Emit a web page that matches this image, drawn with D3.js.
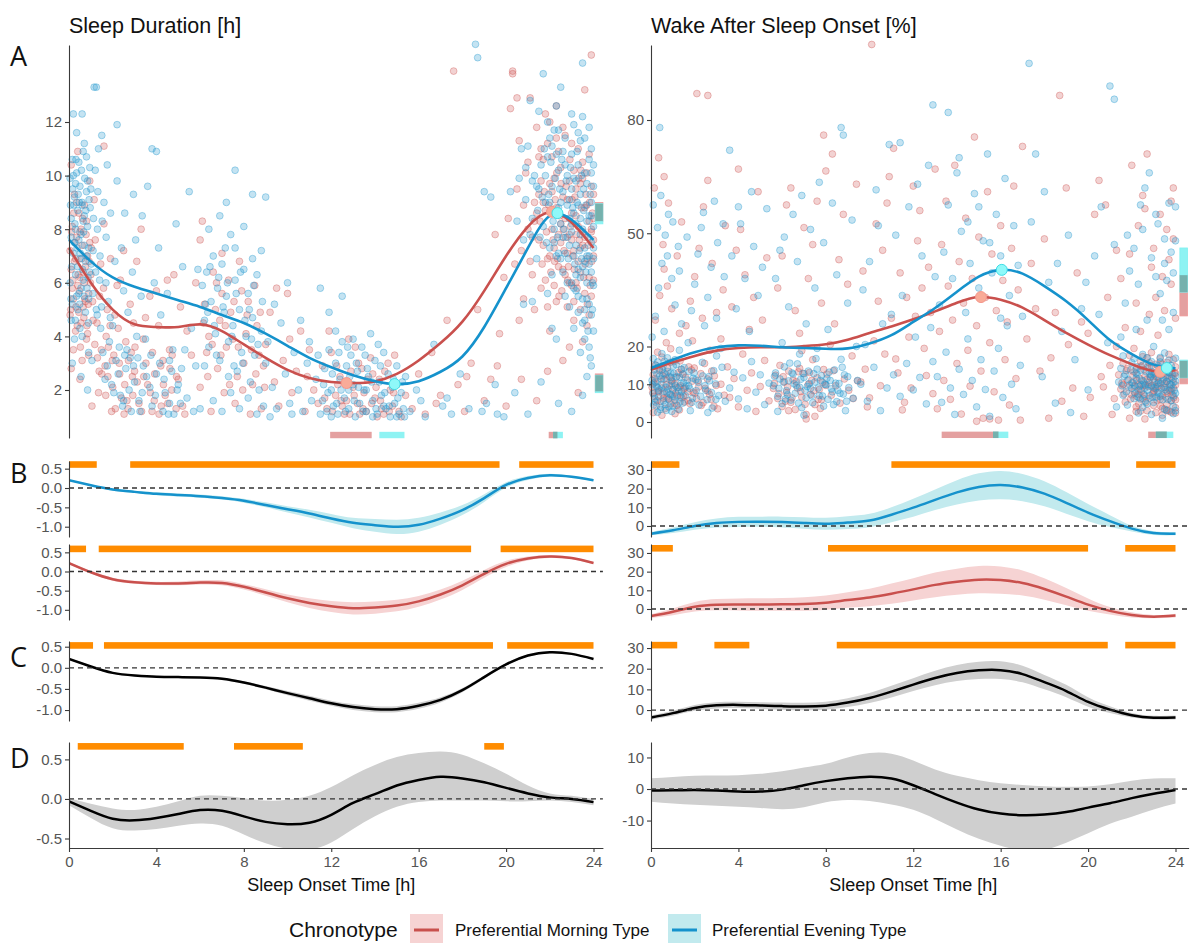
<!DOCTYPE html>
<html>
<head>
<meta charset="utf-8">
<script src="https://cdn.jsdelivr.net/npm/d3@7/dist/d3.min.js"></script>
<style>
  html, body { margin: 0; padding: 0; background: #fff; }
  svg { display: block; font-family: "Liberation Sans", Arial, sans-serif; }
</style>
</head>
<body>
<script>
// ---------------- data ----------------
const groups = ["Preferential Morning Type", "Preferential Evening Type"];

// Raw observations: sleep onset time [h], sleep duration [h]
const durMorningPts = `
0.05,7.2 0.1,6.5 0.15,8.1 0.2,5.4 0.25,9.3 0.3,6.9 0.05,4.8 0.35,7.7 0.4,5.9 0.45,8.6 0.5,6.2 0.1,10.4 0.55,4.5 0.6,7.4 0.65,5.1 0.7,8.9 0.75,6.6 0.8,3.9 0.85,7.0 0.9,5.6 0.95,9.8 0.2,3.5 0.3,4.2 0.4,10.9 0.5,7.9 0.6,3.1 0.7,6.0 0.8,8.3 0.15,5.8 0.25,6.8 0.35,9.0 0.45,4.9 0.55,8.0 0.65,6.4 0.75,5.3 0.85,4.1 0.95,7.5 0.1,2.8 0.5,2.4 0.9,3.3
0.08,5.0 0.18,6.1 0.28,7.5 0.38,4.4 0.48,5.7 0.58,6.9 0.68,4.7 0.78,7.8 0.88,5.2 0.98,6.0 1.08,5.3 1.18,3.7 1.28,4.5 1.38,2.7 1.48,3.5 1.58,5.8 1.68,1.8 1.78,2.5 1.88,4.4 1.98,3.1 0.12,7.9 0.22,8.6 0.32,5.1 0.42,6.3 0.52,3.6 0.62,8.4 0.72,5.4 0.82,4.4 0.92,6.8 1.02,7.3
1.0,6.3 1.1,4.6 1.2,7.6 1.3,3.2 1.4,5.5 1.5,2.6 1.6,8.2 1.7,4.0 1.8,3.6 1.9,6.9 2.0,2.1 2.1,4.8 2.2,5.9 2.3,3.0 2.4,1.7 2.5,7.2 2.6,3.8 2.7,1.3 2.8,5.2 2.9,2.5 1.05,1.4 1.35,1.9 1.65,2.9 1.95,1.2 2.25,4.3 2.55,2.2 2.85,3.4 1.15,9.1 1.45,6.7 1.75,5.0 2.05,3.3 2.35,6.1 2.65,1.6 2.95,4.5 1.6,11.1
2.12,1.3 2.32,2.6 2.52,1.1 2.72,3.1 2.92,1.8 3.12,2.3 3.32,1.2 3.52,3.0 3.72,1.9 3.92,2.6 4.12,1.1 4.32,2.2 4.52,1.5 4.72,3.3 4.92,2.5 3.02,3.6 3.42,2.5 3.82,3.4 4.22,1.4 4.62,2.8
3.0,2.7 3.2,1.5 3.4,3.9 3.6,2.2 3.8,1.2 4.0,5.7 4.2,2.9 4.4,1.8 4.6,3.5 4.8,6.3 5.0,2.4 5.2,1.4 5.4,4.2 3.1,6.8 3.5,4.7 3.9,1.6 4.3,3.1 4.7,2.0 5.1,5.1 5.3,1.1 3.3,8.0 4.1,4.4 4.9,1.3 3.7,5.5 4.5,6.1
5.6,3.3 5.8,6.0 6.0,2.1 6.2,5.2 6.4,4.0 6.6,6.4 6.8,2.8 7.0,5.6 7.2,3.6 7.4,4.9 7.6,1.5 7.8,6.8 8.0,3.0 8.2,5.3 8.4,2.2 8.6,4.4 8.8,1.3 9.0,3.7 6.1,8.3 6.5,1.2 6.9,4.6 7.3,6.1 7.7,2.5 8.1,4.1 8.5,5.9 8.9,2.9 6.3,3.4 6.7,5.0 7.1,1.9 7.5,3.9 7.9,5.7 8.3,1.1 8.7,3.3 6.0,7.6 7.0,7.1
6.15,4.5 6.35,2.5 6.55,3.7 6.75,6.0 6.95,3.3 7.15,4.4 7.35,2.2 7.55,5.3 7.75,3.6 7.95,2.0 8.15,4.8 8.35,3.5 8.55,2.6 8.75,4.9 8.95,2.1
9.2,4.9 9.4,2.3 9.6,1.4 9.8,3.1 10.0,5.6 10.2,1.9 10.4,2.7 10.6,4.2 10.8,1.2 11.0,3.5 11.2,2.0 11.4,1.5 9.5,5.8 10.1,3.9 10.9,2.5
11.6,2.9 11.8,1.3 12.0,3.4 12.2,1.8 12.4,2.5 12.6,1.1 12.8,3.9 13.0,2.1 13.2,1.5 13.4,2.8 13.6,1.2 13.8,3.2 14.0,1.7 14.2,2.4 14.4,1.1 14.6,3.0 14.8,1.4 15.0,2.2 15.2,1.0 15.4,1.8 11.9,4.2 12.3,2.2 12.7,1.6 13.1,3.6 13.5,1.9 13.9,2.6 14.3,1.3 14.7,2.0 15.1,1.2 12.5,1.4 13.3,1.1 14.1,1.0 11.7,1.7 12.9,2.7 14.9,3.3
12.05,1.2 12.25,2.9 12.45,1.6 12.65,2.3 12.85,1.1 13.05,1.8 13.25,3.0 13.45,1.3 13.65,2.4 13.85,1.5 14.05,2.1 14.25,1.6 14.45,2.7 14.65,1.2 14.85,1.9
15.7,1.3 16.0,2.6 16.3,1.1 16.6,3.4 17.0,1.8 17.3,4.6 17.6,13.9 17.8,2.2 18.1,1.2 18.4,3.0 18.7,5.0 19.0,1.6 19.3,2.4 19.5,7.8 19.7,4.1 19.9,6.2 20.0,1.4 16.8,1.5 18.2,2.5 19.6,2.9
20.1,8.4 20.2,12.5 20.3,13.8 20.4,6.7 20.5,9.5 20.6,11.3 20.7,7.2 20.8,5.4 20.9,10.1 21.0,8.0 21.1,12.9 21.2,6.3 21.3,9.0 21.4,11.8 21.5,7.6 21.6,5.8 21.7,10.6 21.8,8.7 21.9,6.9 22.0,12.0 22.1,9.4 22.2,7.3 22.3,5.3 22.4,10.9 22.5,8.2 22.6,6.5 22.7,11.5 22.8,9.1 22.9,7.8 23.0,5.9 23.1,10.2 23.2,8.5 23.3,6.8 23.4,9.7 23.5,7.4 23.6,5.6 23.7,8.9 23.8,6.2 23.9,7.9 24.0,9.3
21.0,10.5 21.2,7.7 21.4,8.6 21.6,9.8 21.8,6.1 22.0,7.0 22.1,8.0 22.2,9.9 22.3,8.8 22.4,6.6 22.5,7.5 22.6,9.2 22.7,8.4 22.8,7.1 22.9,6.0 23.0,8.6 23.1,7.2 23.2,9.5 23.3,8.1 23.4,6.4 23.5,9.9 23.6,7.7 23.7,6.9 23.8,8.3 23.9,5.5 24.0,7.0 22.2,5.9 22.5,10.3 22.8,5.1 23.1,4.6 23.4,5.0 23.7,4.4 23.9,9.6 23.3,11.0 22.6,11.8 21.9,11.2 21.3,5.0 20.6,4.6 22.0,4.2 23.5,3.8 23.8,10.8 24.0,6.1 23.6,8.8 23.0,7.6 22.4,7.8 21.7,7.4 21.1,6.8 20.8,8.9 22.9,9.8 23.2,6.0 23.9,8.0 23.4,7.3 22.7,6.3 22.1,10.7 21.5,9.3 23.7,10.1 24.0,8.4 23.1,5.3 22.3,12.6 21.8,12.3 20.5,12.9 23.6,13.2 22.9,3.6 21.9,2.7 23.3,1.9 22.6,3.1 20.7,2.4 21.4,1.6 23.9,14.5 20.3,13.9
21.55,8.3 21.65,6.7 21.75,9.4 21.85,7.9 21.95,8.9 22.05,6.4 22.15,7.6 22.25,9.1 22.35,6.9 22.45,8.5 22.55,5.7 22.65,7.2 22.75,9.6 22.85,6.6 22.95,8.1 23.05,7.0 23.15,9.2 23.25,5.8 23.35,7.6 23.45,8.8 23.55,6.2 23.65,9.3 23.75,7.4 23.85,5.9 23.95,8.6 22.12,8.7 22.32,10.1 22.52,9.7 22.72,7.7 22.92,10.6 23.12,6.5 23.32,9.9 23.52,7.9 23.72,5.2 23.92,6.8 22.22,6.8 22.42,5.5 22.62,8.0 22.82,6.1 23.02,9.1 23.22,7.8 23.42,10.2 23.62,6.7 23.82,9.0 24.0,7.6 21.7,9.0 21.9,5.1 22.0,9.7 21.5,10.7 21.3,8.3 21.6,11.0 22.3,11.4 23.0,11.2 23.5,10.5 23.8,4.8
`;
const durEveningPts = `
0.05,9.9 0.1,8.4 0.15,10.6 0.2,7.1 0.25,9.2 0.3,6.3 0.35,10.1 0.4,8.7 0.45,7.6 0.5,9.6 0.55,5.8 0.6,8.9 0.65,10.9 0.7,7.4 0.75,6.8 0.8,9.4 0.85,8.1 0.9,5.4 0.95,10.3 0.05,6.0 0.1,4.6 0.15,5.2 0.2,12.3 0.25,3.9 0.3,8.0 0.35,5.5 0.4,6.6 0.45,10.5 0.5,4.3 0.55,7.8 0.6,9.0 0.65,6.1 0.7,11.2 0.75,4.9 0.8,7.0 0.85,9.8 0.9,3.4 0.95,6.4 0.1,7.7 0.3,9.7 0.5,6.9 0.7,8.5 0.9,7.3 0.2,10.0 0.4,5.0 0.6,4.0 0.8,10.7 0.15,3.0 0.55,2.5 0.85,2.0 0.35,11.6 0.6,12.3 0.25,7.5 0.65,8.3 0.45,5.6
0.07,8.9 0.17,9.5 0.27,8.2 0.37,7.3 0.47,9.0 0.57,10.2 0.67,7.9 0.77,8.7 0.87,6.2 0.97,8.8 0.12,6.6 0.22,8.9 0.32,10.6 0.42,9.3 0.52,7.1 0.62,6.5 0.72,9.9 0.82,5.8 0.92,9.1 1.02,6.7 1.12,8.4 1.22,6.4 1.32,9.4 1.42,7.0 1.52,8.3 0.09,5.4 0.29,4.6 0.49,5.2 0.69,5.5 0.89,4.5 1.09,5.6 1.29,4.8 1.49,5.1 1.69,6.0 1.89,4.7
1.0,9.5 1.1,7.2 1.2,10.2 1.3,8.0 1.4,6.1 1.5,11.5 1.6,9.0 1.7,7.7 1.8,5.3 1.9,8.6 2.0,4.4 2.1,6.8 2.2,9.8 2.3,3.6 2.4,7.3 2.5,5.7 2.6,2.8 2.7,4.9 2.8,3.2 2.9,6.4 3.0,2.3 3.1,4.0 3.2,1.6 3.3,5.5 3.4,2.9 1.05,3.1 1.25,5.0 1.45,4.3 1.65,2.4 1.85,3.8 2.05,1.9 2.25,2.6 2.45,1.4 2.65,3.5 2.85,1.2 3.05,7.6 3.25,1.2 1.15,13.3 1.25,13.3 2.2,11.9 1.75,10.4 2.55,8.6 2.95,9.3 3.35,8.5 1.35,11.0 3.8,11.0 4.0,10.9 3.6,9.6 3.7,2.1
2.15,3.1 2.35,1.8 2.55,3.3 2.75,2.0 2.95,2.9 3.15,3.2 3.35,1.9 3.55,2.5 3.75,3.3 3.95,1.8 4.15,3.0 4.35,2.4 4.55,1.1 4.75,3.5 4.95,2.0 5.15,2.8 1.55,3.4 1.75,2.9 1.95,2.2 2.5,1.6
3.5,3.9 3.8,1.4 4.0,2.6 4.2,4.8 4.4,1.9 4.6,3.1 4.8,1.1 5.0,2.2 5.2,6.6 5.4,1.7 5.6,4.3 5.8,2.9 6.0,1.3 4.1,7.3 4.5,5.6 4.9,8.2 5.3,3.5 5.7,1.2 4.3,1.2 4.7,2.7 5.1,1.5 5.5,9.4 3.9,6.0 4.6,1.5 5.9,6.5
6.1,5.9 6.2,4.6 6.3,6.4 6.4,3.6 6.5,5.3 6.6,7.0 6.7,4.1 6.8,5.8 6.9,3.1 7.0,6.7 7.1,4.9 7.2,5.5 7.3,3.8 7.4,7.8 7.5,4.4 7.6,6.1 7.7,2.7 7.8,5.0 7.9,3.4 8.0,6.5 8.1,4.0 8.2,5.6 8.3,2.3 8.4,4.7 8.5,3.3 8.6,6.3 8.7,2.0 8.8,4.2 8.9,1.4 9.0,3.0 6.4,8.0 6.9,8.5 7.2,9.0 7.6,7.3 8.0,8.1 8.4,6.9 6.6,1.6 7.0,1.2 7.4,1.9 7.8,1.3 8.2,1.7 8.6,1.1 7.3,2.5 6.2,2.9 8.8,7.2 7.6,10.2 8.4,9.3 9.0,9.2
6.25,5.2 6.45,6.6 6.65,4.4 6.85,6.2 7.05,5.1 7.25,6.0 7.45,4.0 7.65,5.6 7.85,6.4 8.05,4.6 8.25,5.0 8.45,5.9 8.65,3.7 8.85,5.3 7.15,7.3 6.75,3.3 7.95,3.0 8.35,3.9 6.35,4.9 7.55,2.9
9.1,3.8 9.3,2.1 9.5,1.3 9.7,4.5 9.9,2.6 10.1,1.5 10.3,3.4 10.5,2.0 10.7,1.2 10.9,3.0 11.1,1.6 11.3,2.4 11.5,1.1 9.4,5.2 10.0,6.0 10.6,4.6 11.0,3.8 9.2,1.0 10.2,1.1 11.4,3.3
11.6,1.6 11.7,2.8 11.8,1.2 11.9,3.5 12.0,2.0 12.1,1.4 12.2,3.0 12.3,1.1 12.4,2.4 12.5,3.8 12.6,1.7 12.7,2.9 12.8,1.3 12.9,3.3 13.0,2.2 13.1,1.0 13.2,2.7 13.3,1.5 13.4,3.6 13.5,2.0 13.6,1.2 13.7,2.5 13.8,4.1 13.9,1.6 14.0,3.1 14.1,1.1 14.2,2.3 14.3,1.8 14.4,3.4 14.5,1.3 14.6,2.6 14.7,1.0 14.8,2.1 14.9,1.5 15.0,2.9 15.1,1.1 15.2,1.9 15.3,1.3 15.4,2.5 12.2,4.2 13.0,3.9 12.0,1.0 12.8,2.0 13.6,2.0 14.4,1.4 15.0,1.0 11.5,5.8 12.5,5.5 11.9,4.9 13.9,1.0
11.65,2.2 11.85,1.9 12.05,2.6 12.25,1.5 12.45,2.0 12.65,1.2 12.85,2.5 13.05,1.6 13.25,2.1 13.45,1.2 13.65,2.8 13.85,2.3 14.05,1.3 14.25,2.9 14.45,1.9 14.65,1.4 14.85,2.4 15.05,1.7 15.25,2.3 12.35,3.4 13.15,3.0 13.55,3.3 14.15,3.7 12.75,3.6 15.35,1.0
15.6,1.2 15.9,2.0 16.3,1.0 16.7,3.7 17.1,1.4 17.5,1.1 17.9,2.6 18.3,1.3 18.6,14.9 18.7,14.4 19.1,1.5 19.5,2.2 19.9,1.0 20.2,9.4 20.5,8.3 16.1,1.6 18.9,1.2 17.3,1.7 19.0,9.4 19.3,9.2
20.6,9.9 20.8,7.6 21.0,11.1 21.2,8.4 21.4,6.9 21.6,10.4 21.8,9.0 22.0,7.3 22.2,11.7 22.4,8.8 22.6,6.4 22.8,10.0 23.0,7.9 23.2,5.7 23.4,9.3 23.6,6.8 23.8,8.5 24.0,5.9
21.1,12.8 21.5,12.4 21.9,12.0 22.3,12.6 22.7,11.4 23.1,11.9 23.5,12.2 23.9,11.0 21.7,13.8 22.5,13.3
22.1,9.6 22.3,7.0 22.5,8.2 22.7,5.5 22.9,9.1 23.0,6.0 23.1,8.6 23.2,7.4 23.3,10.4 23.4,6.2 23.5,8.0 23.6,5.0 23.7,9.7 23.8,6.7 23.9,4.8 24.0,8.1
22.9,5.1 23.1,4.3 23.3,4.9 23.5,4.5 23.7,5.4 23.9,6.4 24.0,4.2 23.6,3.9 23.8,3.6 23.4,3.4 23.9,2.9 23.7,2.5 23.5,1.8
22.0,9.0 22.2,8.0 22.4,10.2 22.6,9.4 22.8,7.7 23.0,10.8 23.2,9.8 23.4,11.3 23.6,7.3 23.8,10.6 24.0,9.6 23.1,7.0 23.3,8.9 23.5,6.6 23.7,8.3 23.9,7.5 22.1,6.3 22.5,6.9 22.9,8.4 23.3,6.5 23.7,6.0 23.9,9.0 21.7,8.1 21.9,10.7 21.5,9.5 21.3,10.0 21.1,7.8 20.9,9.1 20.7,11.0 22.6,10.9 23.0,9.5 23.4,8.4 23.8,7.0 24.0,6.9 23.2,6.3 23.6,10.1 22.8,8.9 22.4,7.1 21.9,5.6 21.2,5.3 20.8,5.2 22.1,4.3 22.3,3.9 21.6,2.3 20.4,1.9 23.0,1.2 22.4,1.5 21.0,1.1 19.6,1.1 23.5,14.2
21.45,8.7 21.55,7.7 21.65,9.2 21.75,11.0 21.85,7.5 21.95,9.3 22.05,10.5 22.15,8.3 22.25,9.9 22.35,7.7 22.45,9.5 22.55,10.6 22.65,8.0 22.75,9.8 22.85,6.9 22.95,10.3 23.05,8.8 23.15,6.7 23.25,9.0 23.35,7.2 23.45,10.0 23.55,8.7 23.65,6.4 23.75,7.7 23.85,9.3 23.95,6.0 22.1,11.1 22.4,11.7 22.7,10.4 23.0,12.3 23.3,11.6 23.6,11.4 23.9,10.1 22.2,7.5 22.5,9.0 22.8,6.0 23.1,9.9 23.4,7.8 23.7,7.0 24.0,7.3 23.5,5.4 23.8,5.2 23.6,4.6 23.3,5.5 23.95,5.0 23.75,4.2 23.85,3.2 23.1,5.8 22.7,7.1 22.9,7.4 23.2,8.2 23.45,6.9 23.65,8.9 23.9,8.5 21.8,10.0 22.0,11.4 21.4,9.6 21.2,9.8 20.9,10.3 22.3,10.8 23.0,8.2 23.55,9.5 23.25,10.9 22.6,7.7 24.0,10.4 23.8,11.8
`;

// Raw observations: sleep onset time [h], wake after sleep onset [%]
const wasoMorningPts = `
0.05,9.2 0.1,12.5 0.15,6.8 0.2,15.1 0.25,4.3 0.3,10.7 0.35,8.0 0.4,13.6 0.45,5.5 0.5,17.2 0.55,7.4 0.6,11.3 0.65,3.6 0.7,9.9 0.75,14.4 0.8,6.1 0.85,12.0 0.9,4.8 0.95,10.2 1.0,8.5 1.05,16.0 1.1,5.0 1.15,11.8 1.2,7.0 1.25,13.1 1.3,3.2 1.35,9.6 1.4,6.4 1.45,12.7 1.5,8.8 0.1,2.5 0.3,18.5 0.5,1.8 0.7,21.0 0.9,19.4 1.1,2.2 1.3,23.5 0.2,27.0 0.4,33.5 0.6,40.5 0.8,58.0 0.15,62.0 0.35,70.0 0.55,47.0 0.75,36.0 0.95,30.0 1.2,44.0 1.4,53.0 0.6,65.0
0.08,7.8 0.18,11.5 0.28,5.7 0.38,14.0 0.48,9.0 0.58,6.3 0.68,12.6 0.78,8.7 0.88,15.8 0.98,6.8 1.08,10.1 1.18,4.4 1.28,9.2 1.38,13.9 1.48,6.9 1.58,11.8 1.68,8.0 1.78,4.9 1.88,10.8 1.98,14.3 2.08,6.2 2.18,9.3 2.28,12.8 2.38,5.1 2.48,8.9 2.58,11.4 2.68,7.3 2.78,13.5 2.88,4.2 2.98,9.7 0.13,10.3 0.33,8.2 0.53,12.2 0.73,6.6 0.93,11.0 1.13,7.7 1.33,16.2 1.53,5.3 1.73,14.6 1.93,7.9
1.55,9.0 1.7,5.7 1.85,13.8 2.0,7.6 2.15,11.0 2.3,4.4 2.45,15.5 2.6,8.2 2.75,6.0 2.9,12.2 3.05,3.5 3.2,10.0 3.35,7.1 3.5,14.6 1.6,25.5 1.8,32.0 2.0,38.5 2.2,46.0 2.4,57.0 2.6,64.0 2.8,42.0 3.0,29.0 3.2,22.0 3.4,52.0 2.1,87.0 2.6,86.5 1.9,21.5 2.7,19.0 3.3,35.0 2.35,27.5
3.6,6.5 3.8,11.5 4.0,4.0 4.2,18.0 4.4,8.4 4.6,13.0 4.8,2.8 5.0,9.4 5.2,16.3 5.4,5.6 3.7,30.5 3.9,45.5 4.1,51.0 4.3,39.0 4.5,24.5 4.7,33.0 4.9,61.0 5.1,27.0 5.3,43.5 4.0,67.0
5.6,8.9 5.7,12.4 5.8,6.2 5.9,15.0 6.0,4.1 6.1,10.6 6.2,7.8 6.3,13.5 6.4,5.2 6.5,11.1 6.6,3.3 6.7,9.0 6.8,14.2 6.9,6.6 7.0,12.8 7.1,2.0 7.2,10.0 7.3,7.3 7.4,16.5 7.5,4.6 7.6,11.7 7.7,8.6 7.8,5.9 7.9,13.9 8.0,9.7 5.8,35.5 6.0,44.0 6.2,57.5 6.4,62.0 6.6,29.5 6.8,23.5 7.0,51.5 7.2,38.0 7.4,47.0 7.6,58.5 7.8,31.5 8.0,66.5 8.2,20.5 8.4,26.0 8.6,43.0 8.8,55.0 9.0,36.5 9.2,17.5 9.4,63.0 7.9,76.0 8.3,71.0 6.3,3.0 7.1,0.8 7.5,1.5 6.9,18.9
5.65,10.2 5.85,7.5 6.05,12.0 6.25,9.3 6.45,6.4 6.65,10.7 6.85,8.1 7.05,4.7 7.25,13.1 7.45,8.3 7.65,6.0 7.85,10.5 8.05,12.7 8.25,7.1 8.45,9.6 8.65,5.0 8.85,11.4 9.05,8.4 9.25,6.2 9.45,10.9 6.15,5.5 7.35,11.0 8.35,13.6 6.75,13.3 7.75,3.6
9.6,10.6 9.8,14.0 10.0,6.4 10.2,21.5 10.4,32.0 10.6,45.5 10.8,58.0 11.0,27.5 11.2,16.7 11.4,39.5 11.6,5.2 11.8,22.5 12.0,62.5 12.2,48.0 12.4,35.5 12.6,12.3 12.8,29.0 13.0,67.0 10.1,100.0 9.9,4.0 10.3,52.5 10.7,18.0 11.1,72.5 11.5,3.2 11.9,9.0 12.3,56.0 12.7,41.0 12.9,7.5 10.5,9.6 11.3,13.0 12.1,28.0 10.9,65.0 11.7,33.0 12.5,19.5 9.7,40.0
13.1,3.5 13.2,24.0 13.3,47.0 13.4,11.0 13.5,58.5 13.6,36.0 13.7,6.0 13.8,27.0 13.9,68.0 14.0,15.5 14.1,42.5 14.2,2.1 14.3,31.5 14.4,54.0 14.5,19.0 14.6,9.5 14.7,38.0 14.8,75.5 14.9,25.5 15.0,49.0 15.1,13.5 15.2,1.0 15.3,33.0 15.4,61.0 15.5,21.0 15.6,44.5 15.7,8.0 15.8,29.5 15.9,0.5 16.0,52.0 16.1,37.5 16.2,16.5 16.3,26.5 16.4,4.5 16.5,46.0 16.6,62.5 16.7,11.5 16.8,35.0 17.0,73.0 17.2,22.0 17.4,42.0 17.6,30.0 16.9,0.5 15.5,0.8 14.9,0.2
17.8,13.5 18.0,48.5 18.3,17.0 18.5,29.0 18.8,5.5 19.0,62.0 19.3,9.0 19.5,39.5 19.8,1.5 20.0,23.5 20.3,55.0 20.6,12.0 20.9,33.0 21.1,2.0 21.3,45.5 18.2,1.0 19.1,20.5 19.7,26.5 20.1,6.5 20.8,57.5 18.7,86.5 20.5,64.0
21.4,12.5 21.5,8.7 21.6,15.5 21.7,5.3 21.8,11.0 21.9,17.6 22.0,7.2 22.1,13.3 22.2,4.0 22.3,9.8 22.4,16.0 22.5,6.3 22.6,12.1 22.7,3.0 22.8,10.5 22.9,14.8 23.0,7.9 23.1,2.5 23.2,11.8 23.3,6.0 23.4,15.3 23.5,9.2 23.6,4.7 23.7,13.0 23.8,8.1 23.9,11.4 24.0,5.9
22.0,10.4 22.2,13.9 22.4,8.6 22.6,6.9 22.8,15.7 23.0,12.6 23.2,9.5 23.4,7.1 23.6,10.8 23.8,5.6 24.0,12.9 22.3,7.3 22.7,11.3 23.1,8.8 23.5,13.7 23.9,9.0 21.6,9.9 21.8,14.1 22.5,17.3 23.3,16.8 23.7,17.9
21.55,10.3 21.65,7.4 21.75,13.6 21.85,9.1 21.95,6.1 22.05,12.3 22.15,9.5 22.25,6.7 22.35,11.6 22.45,8.2 22.55,13.9 22.65,5.2 22.75,9.4 22.85,12.0 22.95,7.5 23.05,10.6 23.15,5.8 23.25,13.4 23.35,8.9 23.45,11.3 23.55,6.6 23.65,12.4 23.75,9.9 23.85,7.2 23.95,13.0 22.12,7.9 22.32,4.8 22.52,10.0 22.72,14.6 22.92,9.7 23.12,12.0 23.32,4.2 23.52,10.2 23.72,8.4 23.92,6.4 22.22,11.0 22.42,14.8 22.62,9.7 22.82,6.3 23.02,8.3 23.22,10.4 23.42,12.8 23.62,7.6 23.82,11.7 24.0,9.8 23.1,15.3 22.7,17.0 23.6,15.8 24.0,14.6 23.9,16.5 22.9,18.4 23.4,3.6 23.7,2.9 22.4,2.9 24.0,2.4
22.1,19.5 22.4,24.0 22.8,28.5 23.1,33.0 23.4,38.5 23.7,43.0 23.9,48.5 22.3,52.0 22.6,56.5 23.0,46.0 23.3,55.0 23.6,51.0 23.8,36.5 24.0,27.5 22.9,41.0 22.2,31.5 21.9,44.5 21.5,38.0 21.7,25.0 22.5,60.0 23.2,23.0 23.5,29.5 23.8,58.5 21.3,20.0 22.0,68.0 22.7,71.0 23.9,62.0
21.9,1.0 22.6,0.8 23.4,1.8 23.8,2.6 22.2,2.8 23.0,4.4 23.6,3.2 24.0,3.8 21.2,6.2 21.0,15.0 20.7,9.3
`;
const wasoEveningPts = `
0.05,11.0 0.1,7.5 0.15,13.8 0.2,5.3 0.25,9.4 0.3,15.9 0.35,6.7 0.4,12.2 0.45,3.9 0.5,10.0 0.55,14.7 0.6,8.1 0.65,4.6 0.7,11.6 0.75,17.0 0.8,6.0 0.85,9.7 0.9,13.0 0.95,2.8 1.0,8.7 1.05,12.9 1.1,5.8 1.15,15.2 1.2,9.1 1.25,3.4 1.3,11.9 1.35,7.0 1.4,14.0 1.45,5.0 1.5,10.4 0.1,16.8 0.3,2.6 0.5,18.1 0.7,3.1 0.9,7.2 1.1,16.5 1.3,19.0 0.2,10.6 0.6,12.8 1.0,4.2 1.4,8.0
0.07,9.9 0.17,6.2 0.27,12.7 0.37,8.5 0.47,11.4 0.57,5.6 0.67,9.2 0.77,13.4 0.87,7.4 0.97,10.8 1.07,6.7 1.17,12.0 1.27,8.2 1.37,10.2 1.47,12.6 1.57,7.0 1.67,11.1 1.77,8.9 1.87,5.2 1.97,13.0 2.07,8.3 2.17,10.5 2.27,6.8 2.37,12.2 2.47,9.6 2.57,5.9 2.67,10.9 2.77,7.8 2.87,13.6 2.97,6.0 0.12,4.5 0.32,9.0 0.52,13.9 0.72,7.9 0.92,11.8 1.12,9.6 1.32,5.3 1.52,14.4 1.72,9.6 1.92,11.6 0.22,15.0 0.62,16.1 1.02,14.8 0.42,3.3 0.82,4.0
0.05,22.5 0.2,28.0 0.35,35.5 0.5,42.0 0.65,49.5 0.8,55.0 0.95,38.0 1.1,31.0 1.25,46.5 1.4,26.0 0.1,57.5 0.3,51.5 0.45,60.0 0.6,24.0 0.4,78.0 0.75,44.0 1.0,53.0 1.3,40.0
1.6,9.5 1.75,13.4 1.9,6.3 2.05,11.2 2.2,4.5 2.35,15.8 2.5,8.4 2.65,12.0 2.8,3.7 2.95,10.1 3.1,7.0 3.25,14.5 3.4,5.5 1.7,21.0 1.85,29.5 2.0,36.5 2.15,44.5 2.3,51.5 2.45,25.5 2.6,33.0 2.75,41.0 2.9,58.5 3.05,47.5 3.2,19.5 3.35,38.5 1.65,49.0 2.4,55.5 3.0,27.5 3.3,52.5 3.6,72.0 1.8,3.0 2.6,2.5 3.0,17.5
3.6,9.0 3.8,13.2 4.0,6.1 4.2,11.7 4.4,3.5 4.6,16.0 4.8,7.9 5.0,12.5 5.2,4.6 5.4,10.3 3.7,44.0 3.9,30.0 4.1,52.5 4.3,38.0 4.5,24.0 4.7,46.5 4.9,33.5 5.1,41.0 5.3,56.5 4.0,57.0 4.6,61.0
5.6,9.6 5.7,13.0 5.8,6.8 5.9,11.4 6.0,4.9 6.1,14.6 6.2,8.3 6.3,10.9 6.4,5.8 6.5,12.7 6.6,7.6 6.7,15.4 6.8,9.2 6.9,3.8 7.0,11.8 7.1,6.4 7.2,13.5 7.3,8.9 7.4,5.1 7.5,10.6 7.6,14.0 7.7,7.0 7.8,12.3 7.9,4.2 8.0,9.9 8.1,6.0 8.2,11.0 8.3,8.0 8.4,13.8 8.5,5.4 8.6,10.2 8.7,16.6 8.8,7.4 8.9,3.0 9.0,12.0
5.65,12.1 5.85,8.9 6.05,10.6 6.25,7.2 6.45,13.0 6.65,9.7 6.85,11.3 7.05,8.4 7.25,10.2 7.45,12.8 7.65,9.0 7.85,6.9 8.05,11.6 8.25,8.8 8.45,10.3 8.65,7.6 8.85,12.5 9.05,9.1 9.25,6.3 9.45,11.0 6.15,6.1 6.55,10.1 6.95,12.9 7.35,7.0 7.75,11.0 8.15,13.2 8.55,8.4 8.95,5.5 7.15,9.4 7.95,10.0 6.35,15.6 7.55,16.8 8.75,14.5 6.75,5.0 8.35,4.6
5.7,38.0 5.9,45.5 6.1,49.0 6.3,30.5 6.5,55.0 6.7,42.5 6.9,60.0 7.1,26.0 7.3,51.0 7.5,35.5 7.7,63.5 7.9,47.5 8.1,24.5 8.3,58.0 8.5,39.0 8.7,78.0 8.8,76.0 9.0,31.5 9.2,53.5 9.4,20.0 6.0,21.0 6.8,18.0 7.6,19.5 5.8,2.8 7.0,1.8
9.6,10.0 9.9,5.5 10.2,14.5 10.5,3.0 10.8,9.0 11.1,12.5 11.4,6.8 11.7,15.5 12.0,8.5 12.3,11.8 12.6,4.8 12.9,16.0 9.7,35.0 10.0,42.5 10.3,61.5 10.6,26.0 10.9,73.5 11.2,49.5 11.5,33.5 11.8,57.0 12.1,22.5 12.4,44.0 12.7,68.0 13.0,38.5 11.4,74.0 10.4,52.0 12.2,63.0 11.0,28.5 9.8,20.5 12.8,25.0
13.1,12.0 13.3,5.2 13.5,18.5 13.7,9.0 13.9,2.0 14.1,14.0 14.3,7.3 14.5,22.0 14.7,11.0 14.9,4.0 15.1,16.5 15.3,8.6 15.5,1.5 15.7,13.5 15.9,19.5 16.1,6.5 16.3,25.5 16.5,10.0 16.7,3.5 16.9,15.0
13.2,31.0 13.4,45.0 13.6,57.5 13.8,38.0 14.0,66.0 14.2,50.5 14.4,29.0 14.6,42.0 14.8,60.5 15.0,35.5 15.2,48.0 15.4,71.0 15.6,39.5 15.8,55.0 16.0,44.0 16.2,64.5 16.4,33.5 16.6,52.0 16.8,41.5 17.0,28.0 17.3,95.0 12.9,84.0 13.6,82.0 14.1,70.0 16.0,27.5 15.0,57.0 17.4,53.0 15.5,47.5 14.5,53.0
17.6,71.0 17.9,12.0 18.2,37.0 18.5,5.0 18.8,24.0 19.1,49.5 19.4,16.5 19.7,30.0 20.0,8.5 20.3,44.0 20.6,57.0 20.9,21.0 21.0,89.0 21.2,85.5 18.0,61.0 19.2,2.5 19.9,37.0 20.5,28.5 18.6,42.0 21.2,47.0
21.4,10.6 21.5,14.2 21.6,7.1 21.7,12.6 21.8,4.5 21.9,9.8 22.0,15.7 22.1,6.2 22.2,11.6 22.3,8.5 22.4,13.7 22.5,3.9 22.6,10.1 22.7,17.0 22.8,7.0 22.9,12.4 23.0,5.2 23.1,9.3 23.2,14.9 23.3,6.8 23.4,11.1 23.5,3.4 23.6,8.2 23.7,13.1 23.8,5.7 23.9,10.5 24.0,7.6
22.0,8.9 22.2,12.9 22.4,6.1 22.6,9.0 22.8,14.6 23.0,11.4 23.2,7.8 23.4,13.8 23.6,10.7 23.8,8.8 24.0,12.2 22.1,16.8 22.5,15.0 22.9,9.5 23.3,15.9 23.7,16.4 23.9,4.1 24.0,3.0 23.5,18.3 22.7,4.8
21.55,9.6 21.65,12.1 21.75,8.0 21.85,11.2 21.95,13.8 22.05,10.4 22.15,7.6 22.25,12.7 22.35,9.4 22.45,11.1 22.55,7.3 22.65,13.3 22.75,9.9 22.85,11.8 22.95,6.5 23.05,13.0 23.15,10.0 23.25,7.6 23.35,12.4 23.45,9.2 23.55,11.9 23.65,6.0 23.75,10.0 23.85,12.6 23.95,8.4 22.12,9.7 22.32,6.5 22.52,10.9 22.72,8.4 22.92,13.3 23.12,6.6 23.32,10.2 23.52,8.6 23.72,11.6 23.92,6.9 22.22,14.6 22.42,9.8 22.62,5.6 22.82,12.6 23.02,9.0 23.22,11.0 23.42,5.9 23.62,13.4 23.82,9.8 24.0,10.8 22.9,16.0 23.3,17.1 23.8,15.0 24.0,16.9 22.5,17.9 23.6,3.0 23.9,2.2 22.3,2.4
21.5,22.5 21.7,31.5 21.9,40.0 22.1,46.0 22.3,36.5 22.5,51.0 22.7,27.0 22.9,43.5 23.1,55.0 23.3,34.0 23.5,48.5 23.7,58.0 23.9,39.5 24.0,57.0 22.2,24.5 22.6,62.0 23.0,20.0 23.4,27.0 23.8,45.0 23.6,37.5 23.2,52.5 22.8,66.0 24.0,48.0 23.9,29.0 23.5,42.0 21.8,49.5 22.4,57.5 23.1,38.5 23.7,24.5 21.6,17.5 21.3,4.0 22.9,2.0 23.4,1.0
`;

// Fitted circadian curves (panel A)
const fitHours = [0,1,2,3,4,5,6,7,8,9,10,11,12,13,14,15,16,17,18,19,20,21,22,23,24];
const durMorningFit = [7.3,6.0,5.0,4.45,4.35,4.35,4.45,4.2,3.7,3.2,2.75,2.45,2.3,2.26,2.32,2.6,3.1,3.75,4.55,5.7,7.0,8.1,8.63,8.25,7.3];
const durEveningFit = [7.6,6.8,6.2,5.85,5.6,5.35,5.1,4.8,4.5,4.1,3.65,3.2,2.85,2.55,2.33,2.22,2.33,2.68,3.25,4.35,5.8,7.3,8.5,8.35,7.6];
const wasoMorningFit = [13.8,15.8,17.5,18.9,19.6,19.8,19.8,20.1,20.6,21.8,23.6,25.3,27.2,29.3,31.6,33.1,32.4,30.3,27.0,23.6,20.5,17.7,15.3,13.5,13.7];
const wasoEveningFit = [14.3,16.5,18.5,19.8,20.3,20.2,19.8,19.6,19.4,19.5,20.8,23.0,26.5,30.2,34.5,38.5,40.3,39.3,36.0,32.0,27.0,21.7,18.0,15.2,14.2];

// Peak / trough of each fit: [time h, value]
const durMorningExtrema = [[12.7, 2.26], [22.1, 8.65]];
const durEveningExtrema = [[14.9, 2.22], [22.35, 8.6]];
const wasoMorningExtrema = [[15.1, 33.1], [23.3, 13.3]];
const wasoEveningExtrema = [[16.05, 40.3], [23.6, 14.3]];

// Confidence intervals of the extremum times [h] and of the extremum values
const durMorningTimeCI = [[11.95, 13.85], [21.95, 22.35]];
const durEveningTimeCI = [[14.2, 15.35], [22.15, 22.6]];
const durMorningValueCI = [[1.95, 2.6], [8.3, 9.0]];
const durEveningValueCI = [[1.9, 2.55], [8.2, 8.95]];
const wasoMorningTimeCI = [[13.3, 15.9], [22.75, 23.6]];
const wasoEveningTimeCI = [[15.65, 16.35], [23.1, 23.9]];
const wasoMorningValueCI = [[28.1, 38.9], [10.1, 16.2]];
const wasoEveningValueCI = [[34.4, 46.1], [11.7, 16.4]];

// Deviation curves with confidence band (panels B–D), evaluated hourly
const devHours = [0,1,2,3,4,5,6,7,8,9,10,11,12,13,14,15,16,17,18,19,20,21,22,23,24];
const durEvenEst = [0.20,0.07,-0.04,-0.10,-0.15,-0.18,-0.21,-0.26,-0.33,-0.44,-0.55,-0.66,-0.79,-0.90,-0.96,-1.00,-0.95,-0.79,-0.57,-0.26,0.08,0.26,0.33,0.29,0.20];
const durEvenLo  = [0.18,0.05,-0.07,-0.13,-0.19,-0.22,-0.25,-0.30,-0.38,-0.50,-0.63,-0.76,-0.90,-1.04,-1.13,-1.19,-1.13,-0.95,-0.70,-0.36,0.01,0.21,0.29,0.26,0.18];
const durEvenHi  = [0.22,0.09,-0.01,-0.07,-0.11,-0.14,-0.17,-0.21,-0.28,-0.37,-0.47,-0.56,-0.67,-0.77,-0.80,-0.82,-0.77,-0.63,-0.44,-0.16,0.15,0.31,0.37,0.32,0.22];
const durMornEst = [0.22,-0.02,-0.20,-0.28,-0.31,-0.31,-0.29,-0.30,-0.40,-0.55,-0.70,-0.82,-0.91,-0.96,-0.94,-0.89,-0.78,-0.60,-0.36,-0.06,0.20,0.34,0.39,0.35,0.22];
const durMornLo  = [0.19,-0.05,-0.24,-0.32,-0.35,-0.36,-0.34,-0.36,-0.47,-0.63,-0.80,-0.95,-1.06,-1.12,-1.10,-1.04,-0.92,-0.73,-0.48,-0.16,0.12,0.29,0.35,0.32,0.19];
const durMornHi  = [0.25,0.01,-0.16,-0.24,-0.27,-0.26,-0.23,-0.23,-0.33,-0.46,-0.60,-0.70,-0.77,-0.80,-0.78,-0.74,-0.64,-0.47,-0.24,0.04,0.28,0.39,0.43,0.38,0.25];
const durAllEst  = [0.21,0.03,-0.12,-0.18,-0.21,-0.22,-0.23,-0.26,-0.35,-0.47,-0.60,-0.72,-0.84,-0.93,-0.98,-0.98,-0.90,-0.76,-0.53,-0.22,0.08,0.29,0.37,0.33,0.21];
const durAllLo   = [0.19,0.01,-0.14,-0.20,-0.23,-0.24,-0.25,-0.29,-0.38,-0.51,-0.65,-0.78,-0.90,-1.00,-1.05,-1.05,-0.97,-0.82,-0.58,-0.26,0.05,0.26,0.34,0.31,0.19];
const durAllHi   = [0.23,0.05,-0.10,-0.16,-0.19,-0.20,-0.21,-0.23,-0.32,-0.43,-0.55,-0.66,-0.78,-0.86,-0.91,-0.91,-0.83,-0.70,-0.48,-0.18,0.11,0.32,0.40,0.35,0.23];
const durDiffEst = [-0.03,-0.15,-0.25,-0.27,-0.24,-0.19,-0.14,-0.15,-0.22,-0.29,-0.32,-0.30,-0.20,-0.05,0.06,0.17,0.24,0.28,0.26,0.21,0.14,0.07,0.02,0.00,-0.04];
const durDiffLo  = [-0.08,-0.24,-0.37,-0.40,-0.38,-0.34,-0.31,-0.34,-0.45,-0.56,-0.63,-0.64,-0.55,-0.38,-0.22,-0.10,-0.04,-0.02,-0.02,-0.02,-0.03,-0.03,-0.02,-0.04,-0.08];
const durDiffHi  = [0.01,-0.06,-0.12,-0.14,-0.10,-0.03,0.04,0.04,0.01,-0.02,-0.01,0.04,0.15,0.30,0.43,0.53,0.58,0.60,0.56,0.45,0.32,0.17,0.07,0.04,0.00];

const wasoEvenEst = [-4.1,-2.3,0.0,1.6,2.2,2.3,2.1,1.6,1.2,1.8,2.9,6.0,9.8,14.0,18.0,20.9,21.9,20.6,17.3,12.4,7.2,2.6,-1.4,-3.8,-4.1];
const wasoEvenLo  = [-5.0,-3.8,-2.0,-0.8,-0.5,-0.4,-0.8,-1.5,-2.0,-1.6,-0.7,2.0,5.0,8.5,11.5,13.6,14.3,13.3,10.6,6.6,2.6,-0.6,-3.0,-4.8,-5.0];
const wasoEvenHi  = [-3.2,-0.8,2.0,4.0,4.9,5.0,5.0,4.7,4.4,5.2,6.5,10.0,14.6,19.5,24.5,28.2,29.5,27.9,24.0,18.2,11.8,5.8,0.2,-2.8,-3.2];
const wasoMornEst = [-3.8,-1.5,1.2,2.3,2.4,2.4,2.5,2.7,3.4,4.8,6.2,8.2,10.5,12.9,14.6,15.7,15.5,13.9,10.7,6.6,2.3,-1.0,-3.2,-4.1,-3.5];
const wasoMornLo  = [-4.8,-3.3,-1.4,-0.7,-0.8,-0.9,-0.9,-0.9,-0.4,0.6,1.5,2.8,4.5,6.3,7.6,8.4,8.2,7.2,5.0,2.0,-1.0,-3.0,-4.6,-5.0,-4.5];
const wasoMornHi  = [-2.8,0.3,3.8,5.3,5.6,5.7,5.9,6.3,7.2,9.0,10.9,13.6,16.5,19.5,21.6,23.0,22.8,20.6,16.4,11.2,5.6,1.0,-1.8,-3.2,-2.5];
const wasoAllEst  = [-3.6,-1.5,1.0,2.3,2.5,2.2,1.9,1.7,2.1,3.6,5.8,8.9,12.3,15.5,17.9,19.2,19.3,17.4,13.5,9.2,3.9,0.2,-2.5,-3.7,-3.6];
const wasoAllLo   = [-4.6,-2.7,-0.4,0.8,1.0,0.6,0.2,-0.1,0.2,1.5,3.4,6.1,9.2,12.0,14.0,15.0,15.0,13.4,10.0,6.2,1.6,-1.4,-3.6,-4.6,-4.6];
const wasoAllHi   = [-2.6,-0.3,2.4,3.8,4.0,3.8,3.6,3.5,4.0,5.7,8.2,11.7,15.4,19.0,21.8,23.4,23.6,21.4,17.0,12.2,6.2,1.8,-1.4,-2.8,-2.6];
const wasoDiffEst = [-0.5,-0.4,-0.3,-0.5,-0.8,-0.8,-0.2,1.2,2.5,3.4,3.9,3.3,1.2,-1.6,-4.3,-6.5,-7.8,-8.3,-8.1,-7.3,-5.9,-4.5,-2.9,-1.5,-0.3];
const wasoDiffLo  = [-4.0,-4.6,-5.0,-5.3,-5.6,-6.0,-6.4,-5.8,-4.2,-3.5,-3.8,-4.9,-6.6,-9.5,-12.8,-15.8,-18.0,-19.5,-19.3,-17.0,-14.0,-11.0,-8.8,-6.5,-4.6];
const wasoDiffHi  = [3.4,3.8,4.2,4.3,4.4,4.8,5.6,6.8,8.0,10.0,11.4,11.2,9.0,6.2,4.2,2.8,1.8,1.3,0.9,0.7,0.8,1.5,2.6,3.3,3.4];

// Significant intervals [start h, end h]
const durEvenSig = [[0,1.27],[2.8,19.7],[20.6,24]];
const durMornSig = [[0,0.78],[1.36,18.4],[19.75,24]];
const durAllSig  = [[0,1.1],[1.6,19.4],[20.05,24]];
const durDiffSig = [[0.4,5.25],[7.55,10.7],[19.0,19.9]];
const wasoEvenSig = [[0,1.3],[11.0,21.0],[22.2,24]];
const wasoMornSig = [[0,1.0],[8.1,20.0],[21.7,24]];
const wasoAllSig  = [[0,1.2],[2.9,4.5],[8.5,20.9],[21.7,24]];
const wasoDiffSig = [];

// Axis ticks
const xTicks = [0,4,8,12,16,20,24];
const durTicks = [2,4,6,8,10,12];
const wasoTicks = [0,10,20,50,80];
const devDurTicks = [-1,-0.5,0,0.5];
const devDurDiffTicks = [-0.5,0,0.5];
const devWasoTicks = [0,10,20,30];
const devWasoDiffTicks = [-10,0,10];

// ---------------- styling ----------------
const RED = "#c9504d", BLUE = "#1592cc";
const RED_PT = "#d05a58", BLUE_PT = "#2499cf";
const RED_BAND = "#f6d3d3", BLUE_BAND = "#c2eaee", GREY_BAND = "#cfcfcf";
const ORANGE = "#ff8c00";
const CI_RED = "#e4a0a0", CI_BLUE = "#8ef3f3", CI_BOTH = "#76b1ad";
const TICK_FONT = "15px";

const W = 1192, H = 943;
const svg = d3.select("body").append("svg").attr("width", W).attr("height", H);

const parsePts = s => s.trim().split(/\s+/).map(p => p.split(",").map(Number));

// Column x scales (hours); panels extend a little past 24 h
const cols = {
  left:  { x: d3.scaleLinear().domain([0, 24]).range([69, 593.5]),  xEnd: 24.43, barX: [24.08, 24.43] },
  right: { x: d3.scaleLinear().domain([0, 24]).range([651, 1175.5]), xEnd: 24.6,  barX: [24.2, 24.55] }
};

let clipCount = 0;
function makeClip(x0, y0, x1, y1) {
  const id = "clip" + (clipCount++);
  svg.append("clipPath").attr("id", id).append("rect")
    .attr("x", x0).attr("y", y0).attr("width", x1 - x0).attr("height", y1 - y0);
  return "url(#" + id + ")";
}

function styleAxis(ax) {
  ax.select(".domain").attr("stroke", "#3a3a3a").attr("stroke-width", 1.1);
  ax.selectAll(".tick line").attr("stroke", "#3a3a3a").attr("stroke-width", 1.1);
  ax.selectAll(".tick text").attr("fill", "#555").style("font-size", TICK_FONT)
    .style("font-family", "'Liberation Sans', Arial, sans-serif");
}

function yAxis(g, y, ticks, fmt) {
  const ax = g.append("g").attr("transform", `translate(${y.xPos},0)`)
    .call(d3.axisLeft(y).tickValues(ticks).tickSize(4).tickSizeOuter(0).tickPadding(3).tickFormat(fmt));
  styleAxis(ax);
  return ax;
}

const smooth = d3.curveNatural;

// ---------- Panel A ----------
function drawScatterPanel(col, y, morningPts, eveningPts, mFit, eFit, mExt, eExt, mTCI, eTCI, mVCI, eVCI, barLevel, barHalf, ticks) {
  const x = col.x;
  const g = svg.append("g");
  y.xPos = x(0);
  const pts = [
    { data: parsePts(morningPts), c: RED_PT },
    { data: parsePts(eveningPts), c: BLUE_PT }
  ];
  pts.forEach(s => {
    g.append("g").selectAll("circle").data(s.data).join("circle")
      .attr("cx", d => x(d[0])).attr("cy", d => y(d[1])).attr("r", 3.4)
      .attr("fill", s.c).attr("fill-opacity", 0.27)
      .attr("stroke", s.c).attr("stroke-opacity", 0.42).attr("stroke-width", 0.9);
  });
  const line = d3.line().x(d => x(d[0])).y(d => y(d[1])).curve(smooth);
  g.append("path").attr("d", line(fitHours.map((h, i) => [h, mFit[i]])))
    .attr("fill", "none").attr("stroke", RED).attr("stroke-width", 2.6);
  g.append("path").attr("d", line(fitHours.map((h, i) => [h, eFit[i]])))
    .attr("fill", "none").attr("stroke", BLUE).attr("stroke-width", 2.6);

  // time CIs of extrema along the bottom
  const y0 = y(barLevel) - barHalf, hgt = 2 * barHalf;
  mTCI.forEach((m, i) => {
    const e = eTCI[i];
    g.append("rect").attr("x", x(m[0])).attr("width", x(m[1]) - x(m[0])).attr("y", y0).attr("height", hgt).attr("fill", CI_RED);
    g.append("rect").attr("x", x(e[0])).attr("width", x(e[1]) - x(e[0])).attr("y", y0).attr("height", hgt).attr("fill", CI_BLUE);
    const lo = Math.max(m[0], e[0]), hi = Math.min(m[1], e[1]);
    if (hi > lo) g.append("rect").attr("x", x(lo)).attr("width", x(hi) - x(lo)).attr("y", y0).attr("height", hgt).attr("fill", CI_BOTH);
  });
  // value CIs of extrema at the right edge
  const bx0 = x(col.barX[0]), bw = x(col.barX[1]) - x(col.barX[0]);
  mVCI.forEach((m, i) => {
    const e = eVCI[i];
    g.append("rect").attr("x", bx0).attr("width", bw).attr("y", y(m[1])).attr("height", y(m[0]) - y(m[1]))
      .attr("fill", CI_RED).attr("stroke", "#ef9a9a").attr("stroke-width", 0.8);
    g.append("rect").attr("x", bx0).attr("width", bw).attr("y", y(e[1])).attr("height", y(e[0]) - y(e[1]))
      .attr("fill", CI_BLUE).attr("stroke", "#7ff0f0").attr("stroke-width", 0.8);
    const lo = Math.max(m[0], e[0]), hi = Math.min(m[1], e[1]);
    if (hi > lo) g.append("rect").attr("x", bx0).attr("width", bw).attr("y", y(hi)).attr("height", y(lo) - y(hi)).attr("fill", CI_BOTH);
  });

  // extremum markers
  mExt.forEach(d => g.append("circle").attr("cx", x(d[0])).attr("cy", y(d[1])).attr("r", 5.5)
    .attr("fill", "#f9ab98").attr("stroke", "#f5968a").attr("stroke-width", 1));
  eExt.forEach(d => g.append("circle").attr("cx", x(d[0])).attr("cy", y(d[1])).attr("r", 5.5)
    .attr("fill", "#8ff9f9").attr("stroke", "#3fdde6").attr("stroke-width", 1));

  yAxis(g, y, ticks, d => d);
}

const yDurA = d3.scaleLinear().domain([0.209, 14.873]).range([438, 45]);
const yWasoA = d3.scaleLinear().domain([-4.24, 99.87]).range([438, 45]);
drawScatterPanel(cols.left, yDurA, durMorningPts, durEveningPts, durMorningFit, durEveningFit,
  durMorningExtrema, durEveningExtrema, durMorningTimeCI, durEveningTimeCI, durMorningValueCI, durEveningValueCI,
  0.32, 3.2, durTicks);
drawScatterPanel(cols.right, yWasoA, wasoMorningPts, wasoEveningPts, wasoMorningFit, wasoEveningFit,
  wasoMorningExtrema, wasoEveningExtrema, wasoMorningTimeCI, wasoEveningTimeCI, wasoMorningValueCI, wasoEveningValueCI,
  -3.4, 3.2, wasoTicks);

// ---------- Panels B, C, D ----------
function drawDevPanel(col, y, est, lo, hi, lineColor, bandColor, sig, sigLevel, ticks, fmt, withXAxis) {
  const x = col.x;
  const g = svg.append("g");
  y.xPos = x(0);
  const [yb, yt] = y.range();
  const clip = makeClip(x(0), yt, x(col.xEnd), yb);
  const pg = g.append("g").attr("clip-path", clip);
  const area = d3.area().x(d => x(d[0])).y0(d => y(d[1])).y1(d => y(d[2])).curve(smooth);
  pg.append("path").attr("d", area(devHours.map((h, i) => [h, lo[i], hi[i]])))
    .attr("fill", bandColor).attr("stroke", "none");
  // zero reference
  g.append("line").attr("x1", x(0)).attr("x2", x(col.xEnd)).attr("y1", y(0)).attr("y2", y(0))
    .attr("stroke", "#333").attr("stroke-width", 1.3).attr("stroke-dasharray", "5,4");
  const line = d3.line().x(d => x(d[0])).y(d => y(d[1])).curve(smooth);
  pg.append("path").attr("d", line(devHours.map((h, i) => [h, est[i]])))
    .attr("fill", "none").attr("stroke", lineColor).attr("stroke-width", 2.5);
  // significance intervals
  g.append("g").selectAll("rect").data(sig).join("rect")
    .attr("x", d => x(d[0])).attr("width", d => x(d[1]) - x(d[0]))
    .attr("y", y(sigLevel) - 3.3).attr("height", 6.6).attr("fill", ORANGE);
  yAxis(g, y, ticks, fmt);
  if (withXAxis) {
    const xs = d3.scaleLinear().domain([0, col.xEnd]).range([x(0), x(col.xEnd)]);
    const ax = g.append("g").attr("transform", `translate(0,${yb})`)
      .call(d3.axisBottom(xs).tickValues(xTicks).tickSize(4).tickSizeOuter(0).tickPadding(4));
    styleAxis(ax);
    g.append("text").attr("x", x(12)).attr("y", 891).attr("text-anchor", "middle")
      .style("font-size", "18px").attr("fill", "#111").text("Sleep Onset Time [h]");
  }
}

const f1 = d => d.toFixed(1);
const f0 = d => String(d);

// left column (sleep duration)
drawDevPanel(cols.left, d3.scaleLinear().domain([-1.266, 0.698]).range([537, 461]),
  durEvenEst, durEvenLo, durEvenHi, BLUE, BLUE_BAND, durEvenSig, 0.607, devDurTicks, f1, false);
drawDevPanel(cols.left, d3.scaleLinear().domain([-1.266, 0.718]).range([620, 544]),
  durMornEst, durMornLo, durMornHi, RED, RED_BAND, durMornSig, 0.59, devDurTicks, f1, false);
drawDevPanel(cols.left, d3.scaleLinear().domain([-1.26, 0.635]).range([721, 641]),
  durAllEst, durAllLo, durAllHi, "#000", GREY_BAND, durAllSig, 0.53, devDurTicks, f1, false);
drawDevPanel(cols.left, d3.scaleLinear().domain([-0.62, 0.72]).range([848, 742]),
  durDiffEst, durDiffLo, durDiffHi, "#000", GREY_BAND, durDiffSig, 0.665, devDurDiffTicks, f1, true);

// right column (wake after sleep onset)
drawDevPanel(cols.right, d3.scaleLinear().domain([-5.9, 34.8]).range([537, 461]),
  wasoEvenEst, wasoEvenLo, wasoEvenHi, BLUE, BLUE_BAND, wasoEvenSig, 32.9, devWasoTicks, f0, false);
drawDevPanel(cols.right, d3.scaleLinear().domain([-5.9, 34.8]).range([620, 544]),
  wasoMornEst, wasoMornLo, wasoMornHi, RED, RED_BAND, wasoMornSig, 32.5, devWasoTicks, f0, false);
drawDevPanel(cols.right, d3.scaleLinear().domain([-5.3, 33.4]).range([721, 641]),
  wasoAllEst, wasoAllLo, wasoAllHi, "#000", GREY_BAND, wasoAllSig, 31.4, devWasoTicks, f0, false);
drawDevPanel(cols.right, d3.scaleLinear().domain([-18.7, 14.9]).range([848, 742]),
  wasoDiffEst, wasoDiffLo, wasoDiffHi, "#000", GREY_BAND, wasoDiffSig, 0, devWasoDiffTicks, f0, true);

// ---------- titles and panel letters ----------
svg.append("text").attr("x", cols.left.x(0)).attr("y", 33).style("font-size", "21.5px").attr("fill", "#111")
  .text("Sleep Duration [h]");
svg.append("text").attr("x", cols.right.x(0)).attr("y", 33).style("font-size", "21.5px").attr("fill", "#111")
  .text("Wake After Sleep Onset [%]");
[["A", 66], ["B", 483], ["C", 667], ["D", 768]].forEach(([t, yy]) => {
  svg.append("text").attr("x", 10).attr("y", yy).style("font-size", "27px")
    .style("font-family", "'Open Sans', 'DejaVu Sans', sans-serif").attr("fill", "#111").text(t);
});

// ---------- legend ----------
const lg = svg.append("g");
lg.append("text").attr("x", 289).attr("y", 937).style("font-size", "21px").attr("fill", "#111").text("Chronotype");
const keys = [
  { label: groups[0], band: RED_BAND, line: RED, x: 410, tx: 455 },
  { label: groups[1], band: BLUE_BAND, line: BLUE, x: 668, tx: 712 }
];
keys.forEach(k => {
  lg.append("rect").attr("x", k.x).attr("y", 914).attr("width", 33).attr("height", 32).attr("fill", k.band);
  lg.append("line").attr("x1", k.x + 4).attr("x2", k.x + 29).attr("y1", 930).attr("y2", 930)
    .attr("stroke", k.line).attr("stroke-width", 3);
  lg.append("text").attr("x", k.tx).attr("y", 936).style("font-size", "17px").attr("fill", "#111").text(k.label);
});
</script>
</body>
</html>
